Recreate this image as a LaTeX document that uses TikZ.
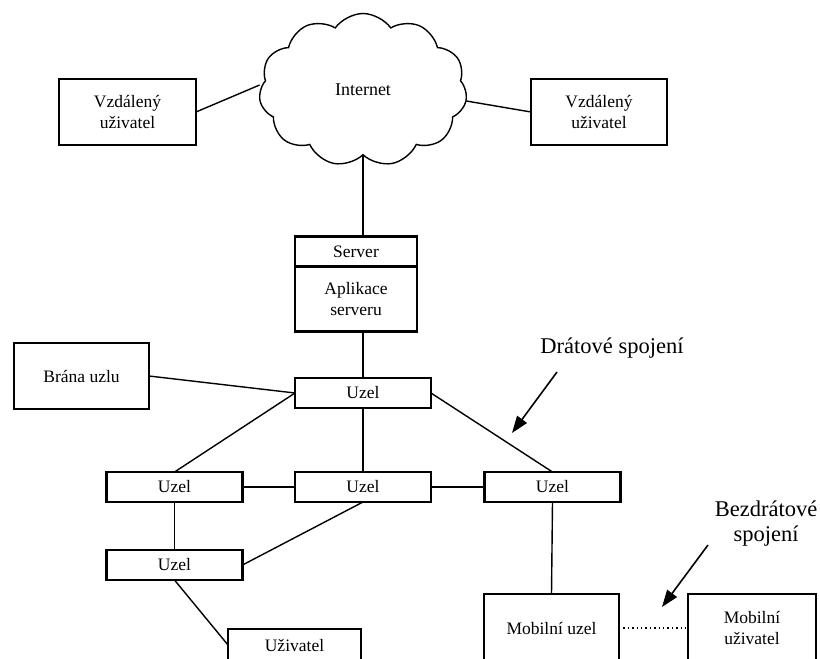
\documentclass[tikz,border=0pt]{standalone}
\usepackage{fontspec}
\setmainfont{Liberation Serif}
\usetikzlibrary{shapes.symbols,arrows.meta,backgrounds}

\begin{document}
\begin{tikzpicture}[x=1pt,y=-1pt,
		box/.style={draw,line width=2.8pt,fill=white,inner sep=0pt,outer sep=0pt,align=center,
			font=\fontsize{17.5}{21.5}\selectfont},
		uzel/.style={box,minimum width=136,minimum height=30},
		spoj/.style={line width=1.4pt},
		popis/.style={align=center,font=\fontsize{22.5}{25}\selectfont},
		sipka/.style={line width=1.6pt,-{Triangle[length=17pt,width=12pt]}}]
	
	\useasboundingbox (0,0) rectangle (820,659);
	\clip (0,0) rectangle (820,659);
	
	% Internet and remote users
	\node[cloud,draw,line width=1.4pt,fill=white,cloud puffs=11,cloud puff arc=110,
		aspect=1.35,minimum width=208,minimum height=153,inner sep=0pt,
		font=\fontsize{18}{21}\selectfont] (inet) at (363,90) {Internet};
	\node[box,minimum width=137,minimum height=66] (vzdL) at (127.5,112) {Vzdálený\\uživatel};
	\node[box,minimum width=136,minimum height=66] (vzdR) at (599,112) {Vzdálený\\uživatel};
	
	% Server
	\node[box,minimum width=122,minimum height=30] (server) at (356,251.5) {Server};
	\node[box,minimum width=122,minimum height=65,anchor=north] (aplikace) at (server.south) {Aplikace\\serveru};
	
	% Nodes
	\node[uzel] (uzel1) at (363,393) {Uzel};
	\node[box,minimum width=135,minimum height=66] (brana) at (81.5,376) {Brána uzlu};
	\node[uzel] (uzelL) at (174.5,487) {Uzel};
	\node[uzel] (uzelS) at (363,487) {Uzel};
	\node[uzel] (uzelR) at (552.5,487) {Uzel};
	\node[uzel] (uzelD) at (174.5,565) {Uzel};
	\node[box,minimum width=133,minimum height=32] (uzivatel) at (294.5,645) {Uživatel};
	\node[box,minimum width=135,minimum height=68] (mobUzel) at (551.5,628) {Mobilní uzel};
	\node[box,minimum width=128,minimum height=68] (mobUziv) at (752,628) {Mobilní\\uživatel};
	
	% Labels
	\node[popis] (drat) at (612,348) {Drátové spojení};
	\node[popis] (bezdrat) at (766,524) {Bezdrátové\\spojení};
	\coordinate (dratA) at (557,372);
	\coordinate (dratB) at (512,433);
	\coordinate (bezA) at (708,545);
	\coordinate (bezB) at (662,607);
	\draw[sipka] (dratA) -- (dratB);
	\draw[sipka] (bezA) -- (bezB);
	
	% Connections
	\begin{scope}[on background layer]
		\draw[spoj] (vzdL.east) -- ([yshift=5pt]inet.west);
		\draw[spoj] (vzdR.west) -- ([yshift=-11pt]inet.east);
		\draw[spoj] (inet.south) -- (server.north -| inet.south);
		\draw[spoj] (aplikace.south -| uzel1.north) -- (uzel1.north);
		\draw[spoj] (brana.east) -- (uzel1.west);
		\draw[spoj] (uzel1.west) -- (uzelL.north);
		\draw[spoj] (uzel1.south) -- (uzelS.north);
		\draw[spoj] (uzel1.east) -- (uzelR.north);
		\draw[spoj] (uzelL.east) -- (uzelS.west);
		\draw[spoj] (uzelS.east) -- (uzelR.west);
		\draw[spoj] (uzelL.south) -- (uzelD.north);
		\draw[spoj] (uzelS.south) -- (uzelD.east);
		\draw[spoj] (uzelD.south) -- (uzivatel.west);
		\draw[spoj] (uzelR.south) -- (mobUzel.north);
		\draw[spoj,dash pattern=on 1.4pt off 3pt] (mobUzel.east) -- (mobUziv.west); % wireless
	\end{scope}
\end{tikzpicture}
\end{document}
